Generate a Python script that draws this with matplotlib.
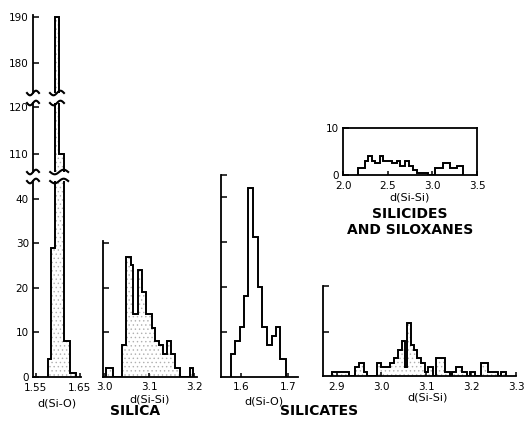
import numpy as np
import matplotlib.pyplot as plt
from matplotlib.lines import Line2D
from matplotlib.transforms import IdentityTransform

W, H = 524, 422

# silica, d(Si-O): bin edges and counts (broken axis, tallest bin 190)
silica_sio_edges = [1.577, 1.584, 1.593, 1.604, 1.614, 1.627, 1.642]
silica_sio_counts = [4, 29, 190, 110, 8, 1]

# silica, d(Si-Si)
silica_sisi_edges = [3.004, 3.019, 3.041, 3.049, 3.059, 3.065, 3.076, 3.085, 3.093, 3.106,
                     3.113, 3.123, 3.130, 3.139, 3.148, 3.158, 3.169, 3.191, 3.198]
silica_sisi_counts = [2, 0, 7, 27, 25, 14, 24, 19, 14, 11, 8, 7, 5, 8, 5, 2, 0, 2]

# silicates, d(Si-O)
silicate_sio_edges = [1.579, 1.587, 1.598, 1.606, 1.614, 1.625, 1.635, 1.644, 1.654,
                      1.666, 1.673, 1.683, 1.694]
silicate_sio_counts = [5, 8, 11, 18, 42, 31, 20, 11, 7, 9, 11, 4]

# silicates, d(Si-Si)
silicate_sisi_edges = [2.889, 2.928, 2.941, 2.951, 2.960, 2.968, 2.991, 2.998, 3.008, 3.020,
                       3.028, 3.037, 3.045, 3.052, 3.057, 3.065, 3.072, 3.080, 3.089, 3.097,
                       3.104, 3.116, 3.121, 3.141, 3.152, 3.158, 3.166, 3.180, 3.190, 3.197,
                       3.208, 3.223, 3.238, 3.260, 3.267, 3.278]
silicate_sisi_counts = [1, 0, 2, 3, 1, 0, 3, 2, 2, 3, 4, 6, 8, 2, 12, 7, 6, 4, 3, 1,
                        2, 0, 4, 1, 0, 1, 2, 1, 0, 1, 0, 3, 1, 0, 1]

# silicides and siloxanes, d(Si-Si) (inset)
silicide_edges = [2.172, 2.246, 2.284, 2.321, 2.358, 2.414, 2.452, 2.489, 2.545, 2.601, 2.638,
                  2.694, 2.743, 2.788, 2.825, 2.956, 3.030, 3.124, 3.198, 3.273, 3.347]
silicide_counts = [1.5, 3, 4, 3, 2.5, 4, 3, 3, 2.5, 3, 2, 3, 2, 1, 0.5, 0, 1.5, 2.5, 1.5, 2]

plt.rcParams['font.family'] = 'DejaVu Sans'
plt.rcParams['hatch.linewidth'] = 0.5

fig = plt.figure(figsize=(W / 100, H / 100), dpi=100)


def px_box(l, r, t, b):
    return [l / W, 1 - b / H, (r - l) / W, (b - t) / H]


def style(ax, spines=('left', 'bottom')):
    for s in ax.spines:
        ax.spines[s].set_visible(s in spines)
        ax.spines[s].set_linewidth(1.3)
    ax.tick_params(direction='in', length=4, width=1.1, labelsize=7.5, pad=3)
    ax.tick_params(axis='x', length=3, pad=4)
    ax.patch.set_alpha(0)


def hist(ax, edges, counts, stipple=True):
    if stipple:
        ax.stairs(counts, edges, fill=True, facecolor='white', edgecolor='#b0b0b0',
                  linewidth=0, hatch='....')
    ax.stairs(counts, edges, color='black', linewidth=1.4, baseline=0)


def wiggle(ax, xd, ya, half_w, amp=2.3):
    cx, cy = ax.get_xaxis_transform().transform((xd, ya))
    t = np.linspace(-0.5, 0.5, 40)
    fig.add_artist(Line2D(cx + 2 * half_w * t, cy + amp * np.sin(2 * np.pi * t),
                          transform=IdentityTransform(), color='black', lw=1.5))


# ---- silica d(Si-O), broken y axis in three pieces ----
s_lo = fig.add_axes(px_box(33, 80.5, 181, 377))
s_mid = fig.add_axes(px_box(33, 80.5, 103, 172))
s_hi = fig.add_axes(px_box(33, 80.5, 15, 93))
for ax, lim, ticks in [(s_lo, (0, 44), [0, 10, 20, 30, 40]),
                       (s_mid, (106.2, 120.9), [110, 120]),
                       (s_hi, (173.5, 190.4), [180, 190])]:
    hist(ax, silica_sio_edges, silica_sio_counts)
    ax.set_xlim(1.544, 1.652)
    ax.set_ylim(*lim)
    ax.set_yticks(ticks)
    if ax is s_lo:
        style(ax)
        ax.set_xticks([1.55, 1.65], ['1.55', '1.65'])
    else:
        style(ax, spines=('left',))
        ax.set_xticks([])

x_ax = 1.544
x_lo = (silica_sio_edges[2] + silica_sio_edges[4]) / 2
x_hi = (silica_sio_edges[2] + silica_sio_edges[3]) / 2
wiggle(s_lo, x_ax, 1, 6)
wiggle(s_mid, x_ax, 0, 6)
wiggle(s_lo, x_lo, 1, 9)
wiggle(s_mid, x_lo, 0, 9)
wiggle(s_mid, x_ax, 1, 6)
wiggle(s_hi, x_ax, 0, 6)
wiggle(s_mid, x_hi, 1, 7)
wiggle(s_hi, x_hi, 0, 7)

# ---- silica d(Si-Si) ----
ax2 = fig.add_axes(px_box(102.7, 196.7, 241, 376.5))
hist(ax2, silica_sisi_edges, silica_sisi_counts)
style(ax2)
ax2.set_xlim(2.997, 3.206)
ax2.set_ylim(0, 30.5)
ax2.set_yticks([10, 20, 30], [])
ax2.set_xticks([3.0, 3.1, 3.2], ['3.0', '3.1', '3.2'])

# ---- silicates d(Si-O) ----
ax3 = fig.add_axes(px_box(221, 298, 175, 376.5))
hist(ax3, silicate_sio_edges, silicate_sio_counts, stipple=False)
style(ax3)
ax3.set_xlim(1.558, 1.720)
ax3.set_ylim(0, 44.8)
ax3.set_yticks([10, 20, 30, 40, 44.8], [])
ax3.set_xticks([1.6, 1.7], ['1.6', '1.7'])

# ---- silicates d(Si-Si) ----
ax4 = fig.add_axes(px_box(322.7, 516, 286, 376))
hist(ax4, silicate_sisi_edges, silicate_sisi_counts)
style(ax4)
ax4.set_xlim(2.869, 3.30)
ax4.set_ylim(0, 20.5)
ax4.set_yticks([10, 20.5], [])
ax4.set_xticks([2.9, 3.0, 3.1, 3.2, 3.3], ['2.9', '3.0', '3.1', '3.2', '3.3'])

# ---- inset: silicides and siloxanes ----
ax5 = fig.add_axes(px_box(343, 477, 128, 175))
hist(ax5, silicide_edges, silicide_counts, stipple=False)
style(ax5, spines=('left', 'bottom', 'top', 'right'))
ax5.set_xlim(2.0, 3.5)
ax5.set_ylim(0, 10)
ax5.set_yticks([0, 10], ['0', '10'])
ax5.set_xticks([2.0, 2.5, 3.0, 3.5], ['2.0', '2.5', '3.0', '3.5'])


def ftext(x, y, s, size=8, **kw):
    fig.text(x / W, 1 - y / H, s, ha='center', va='center', fontsize=size, **kw)


ftext(57, 404, 'd(Si-O)')
ftext(150, 400, 'd(Si-Si)')
ftext(264, 401, 'd(Si-O)')
ftext(428, 397, 'd(Si-Si)')
ftext(410, 197, 'd(Si-Si)')
ftext(135, 411, 'SILICA', size=10, fontweight='bold')
ftext(319, 411, 'SILICATES', size=10, fontweight='bold')
ftext(410, 214, 'SILICIDES', size=10, fontweight='bold')
ftext(410, 230, 'AND SILOXANES', size=10, fontweight='bold')

fig.savefig('out.png', dpi=100)
